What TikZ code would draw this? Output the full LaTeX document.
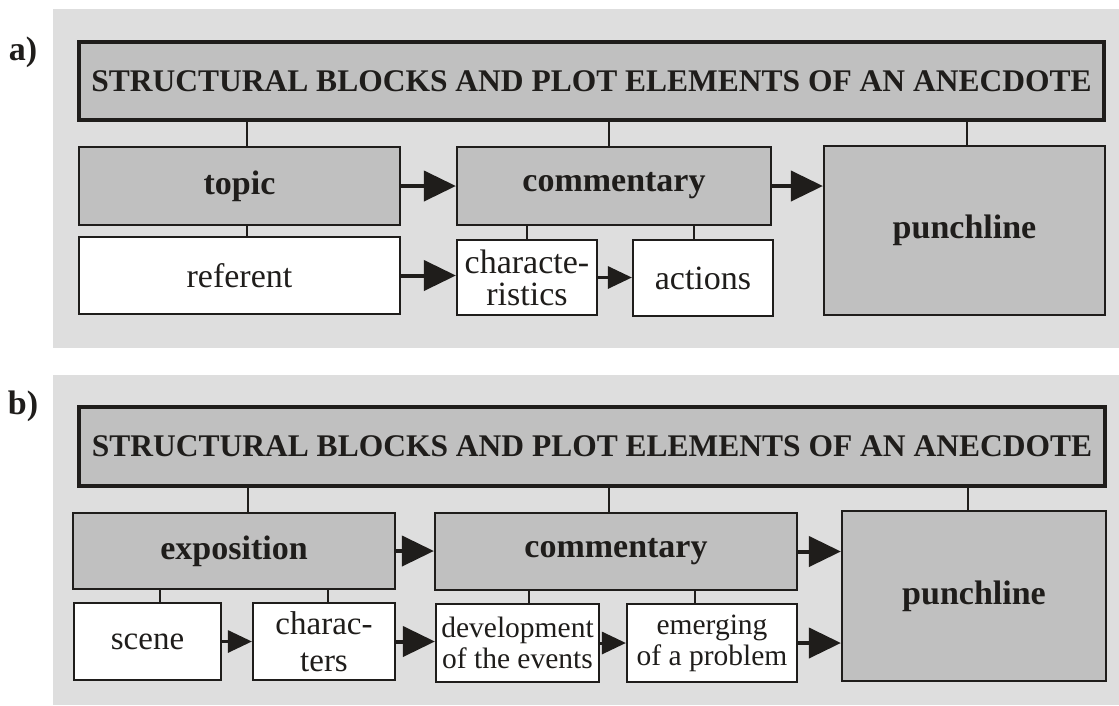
\documentclass[tikz,border=0pt]{standalone}
\usepackage{fontspec}
\setmainfont{Liberation Serif}
\usepackage{tikz}
\usetikzlibrary{arrows.meta}
\usepackage{xcolor}
\definecolor{bggray}{HTML}{DEDEDE}
\definecolor{boxgray}{HTML}{C0C0C0}
\definecolor{ink}{HTML}{1F1D1B}

\begin{document}
\begin{tikzpicture}[x=1pt,y=-1pt,
		head/.style={draw=ink,line width=3.5pt,fill=boxgray,inner sep=0pt,text=ink,font=\fontsize{31.5}{34}\selectfont\bfseries},
		block/.style={draw=ink,line width=2.2pt,fill=boxgray,inner sep=0pt,text=ink,font=\fontsize{34}{36}\selectfont\bfseries},
		leaf/.style={draw=ink,line width=2.2pt,fill=white,inner sep=0pt,text=ink,align=center,font=\fontsize{34}{32}\selectfont},
		link/.style={draw=ink,line width=1.3pt},
		bigarrow/.style={draw=ink,line width=4pt,-{Triangle[length=32pt,width=30pt]}},
		smallarrow/.style={draw=ink,line width=3pt,-{Triangle[length=24pt,width=22pt]}}]
		\useasboundingbox (0,0) rectangle (1119,705);
		\fill[bggray] (53,9) rectangle (1119,348);
		\fill[bggray] (53,375) rectangle (1119,705);
		\node[text=ink,font=\fontsize{34}{36}\selectfont\bfseries] (la) at (23,52) {a)};
		\node[text=ink,font=\fontsize{34}{36}\selectfont\bfseries] (lb) at (23,406) {b)};
		\node[head,minimum width=1025,minimum height=78] (a0) at (591.5,81) {STRUCTURAL BLOCKS AND PLOT ELEMENTS OF AN ANECDOTE};
		\node[block,minimum width=321,minimum height=78] (a1) at (239.5,186) {topic};
		\node[block,minimum width=314,minimum height=78] (a2) at (614,186) {commentary};
		\node[block,minimum width=281,minimum height=169] (a3) at (964.5,230.5) {punchline};
		\node[leaf,minimum width=321,minimum height=77] (a4) at (239.5,275.5) {referent};
		\node[leaf,minimum width=140,minimum height=75] (a5) at (527,277.5) {characte-\\ristics};
		\node[leaf,minimum width=140,minimum height=76] (a6) at (703,278) {actions};
		\node[head,minimum width=1026,minimum height=79] (b0) at (592,446.5) {STRUCTURAL BLOCKS AND PLOT ELEMENTS OF AN ANECDOTE};
		\node[block,minimum width=322,minimum height=76] (b1) at (234,551) {exposition};
		\node[block,minimum width=362,minimum height=77] (b2) at (616,551.5) {commentary};
		\node[block,minimum width=264,minimum height=170] (b3) at (974,596) {punchline};
		\node[leaf,minimum width=147,minimum height=77,font=\fontsize{33}{37}\selectfont] (b4) at (147.5,641.5) {scene};
		\node[leaf,minimum width=142,minimum height=77,font=\fontsize{33}{37}\selectfont] (b5) at (324,641.5) {charac-\\ters};
		\node[leaf,minimum width=163,minimum height=78,font=\fontsize{29.5}{31}\selectfont] (b6) at (517.5,643) {development\\of the events};
		\node[leaf,minimum width=170,minimum height=78,font=\fontsize{29.5}{31}\selectfont] (b7) at (712,643) {emerging\\of a problem};
		\draw[link] (247,0 |- a0.south) -- (247,0 |- a1.north);
		\draw[link] (609,0 |- a0.south) -- (609,0 |- a2.north);
		\draw[link] (967,0 |- a0.south) -- (967,0 |- a3.north);
		\draw[link] (247,0 |- a1.south) -- (247,0 |- a4.north);
		\draw[link] (527,0 |- a2.south) -- (527,0 |- a5.north);
		\draw[link] (694,0 |- a2.south) -- (694,0 |- a6.north);
		\draw[link] (248,0 |- b0.south) -- (248,0 |- b1.north);
		\draw[link] (609,0 |- b0.south) -- (609,0 |- b2.north);
		\draw[link] (968,0 |- b0.south) -- (968,0 |- b3.north);
		\draw[link] (160,0 |- b1.south) -- (160,0 |- b4.north);
		\draw[link] (328,0 |- b1.south) -- (328,0 |- b5.north);
		\draw[link] (529,0 |- b2.south) -- (529,0 |- b6.north);
		\draw[link] (695,0 |- b2.south) -- (695,0 |- b7.north);
		\draw[bigarrow] (a1.east) -- (a1.east -| a2.west);
		\draw[bigarrow] (a2.east) -- (a2.east -| a3.west);
		\draw[bigarrow] (a4.east) -- (a4.east -| a5.west);
		\draw[smallarrow] (a5.east) -- (a5.east -| a6.west);
		\draw[bigarrow] (b1.east) -- (b1.east -| b2.west);
		\draw[bigarrow] (b2.east) -- (b2.east -| b3.west);
		\draw[smallarrow] (b4.east) -- (b4.east -| b5.west);
		\draw[bigarrow] (b5.east) -- (b5.east -| b6.west);
		\draw[smallarrow] (b6.east) -- (b6.east -| b7.west);
		\draw[bigarrow] (b7.east) -- (b7.east -| b3.west);
\end{tikzpicture}
\end{document}
